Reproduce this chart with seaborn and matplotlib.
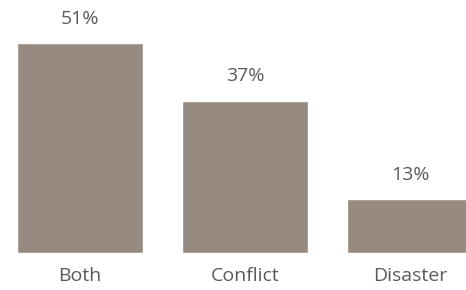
import matplotlib
matplotlib.use("Agg")
import matplotlib.pyplot as plt
import seaborn as sns
import pandas as pd

categories = ["Both", "Conflict", "Disaster"]
values = [51, 37, 13]
labels = ["51%", "37%", "13%"]

df = pd.DataFrame({"cat": categories, "val": values})

sns.set_style("white")
plt.rcParams["font.family"] = ["Open Sans", "DejaVu Sans"]

fig = plt.figure(figsize=(4.66, 2.90), dpi=100)
ax = fig.add_axes([0, 37 / 290, 1, 247 / 290])

sns.barplot(data=df, x="cat", y="val", color="#978a80", saturation=1,
            width=0.765, ax=ax)

ax.set_xlim(-80 / 165, 386 / 165)
ax.set_ylim(0, 60)
for c in ax.containers:
    ax.bar_label(c, labels=labels, padding=11, fontsize=14, color="#5a5a5a")

ax.set_xlabel("")
ax.set_ylabel("")
ax.set_yticks([])
ax.tick_params(axis="x", length=0, pad=10, labelsize=14, labelcolor="#5a5a5a")
sns.despine(ax=ax, left=True, bottom=True)

fig.savefig("out.png", dpi=100)
